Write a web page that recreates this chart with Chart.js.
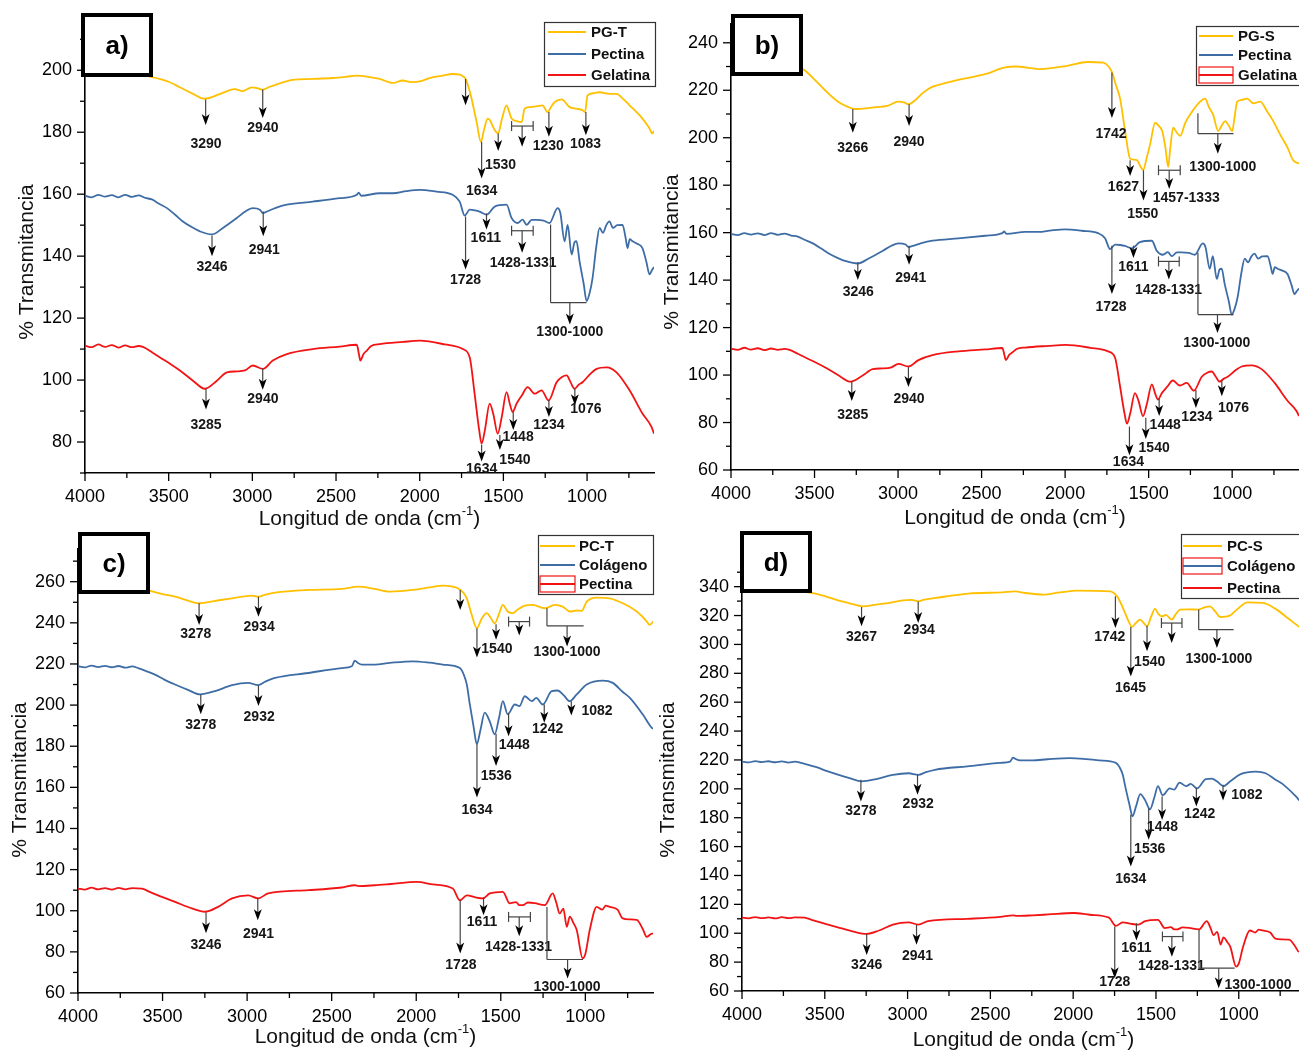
<!DOCTYPE html>
<html>
<head>
<meta charset="utf-8">
<script src="https://cdn.jsdelivr.net/npm/chart.js@4.4.1/dist/chart.umd.min.js"></script>
<style>
  html, body { margin: 0; padding: 0; background: #fff; width: 1299px; height: 1053px; overflow: hidden; }
  canvas { position: absolute; }
</style>
</head>
<body>
<canvas id="pa" width="660" height="530" style="left:0px;top:0px"></canvas>
<canvas id="pb" width="660" height="530" style="left:650px;top:0px"></canvas>
<canvas id="pc" width="660" height="528" style="left:0px;top:525px"></canvas>
<canvas id="pd" width="670" height="528" style="left:650px;top:525px"></canvas>
<script>
//=================================================
// Data (wavenumber cm-1, % transmitance)
//=================================================
const xTicks = [4000, 3500, 3000, 2500, 2000, 1500, 1000];
const yTicksA = [80, 100, 120, 140, 160, 180, 200];
const yTicksB = [60, 80, 100, 120, 140, 160, 180, 200, 220, 240];
const yTicksC = [60, 80, 100, 120, 140, 160, 180, 200, 220, 240, 260];
const yTicksD = [60, 80, 100, 120, 140, 160, 180, 200, 220, 240, 260, 280, 300, 320, 340];

const pgT = [
    [4000, 201], [3900, 200.2], [3800, 199.5], [3700, 198.6], [3600, 197.8], [3500, 196.3], [3433, 194.5],
    [3355, 192.4], [3284, 190.8], [3200, 192.2], [3150, 193.3], [3104, 193.9], [3060, 193.3], [3003, 194.5],
    [2970, 194.2], [2940, 193.7], [2900, 194.6], [2836, 195.8], [2758, 196.9], [2639, 197.2], [2519, 197.5],
    [2440, 197.9], [2376, 198.3], [2300, 197.8], [2239, 197.2], [2161, 195.9], [2101, 196.7], [2050, 196.2],
    [2000, 196.4], [1940, 197.5], [1870, 198.2], [1803, 198.8], [1760, 198.6], [1740, 198], [1726, 197.2],
    [1700, 193], [1690, 190.8], [1660, 183.3], [1634, 176.9], [1615, 181], [1594, 184.4], [1582, 184],
    [1555, 181], [1531, 179.6], [1510, 184], [1481, 188.7], [1465, 186.5], [1451, 184.4], [1420, 183.6],
    [1391, 183.3], [1373, 187.6], [1343, 188.1], [1300, 188.4], [1266, 188.7], [1236, 186.5], [1215, 188.2],
    [1194, 189.7], [1152, 190.6], [1104, 188.1], [1063, 187.6], [1030, 187.2], [1012, 186.5], [997, 191.9],
    [960, 192.6], [925, 192.9], [866, 192.4], [824, 192.4], [780, 190.5], [746, 188.7], [669, 184.4],
    [630, 181.5], [609, 179.6], [600, 180.5]
];

const pgS = [
    [4000, 234], [3900, 232.8], [3800, 231.5], [3700, 230.5], [3620, 230], [3569, 228.9], [3500, 224.5],
    [3437, 220], [3359, 215.2], [3300, 213], [3257, 212.1], [3156, 212.7], [3060, 213.5], [3000, 215.2],
    [2960, 214.8], [2940, 214.1], [2898, 215.8], [2850, 219], [2796, 221.4], [2720, 223], [2641, 224.4],
    [2479, 226.8], [2359, 229.6], [2299, 230], [2200, 229.3], [2150, 228.9], [1988, 230.3], [1868, 231.9],
    [1772, 231.6], [1740, 230], [1719, 227.5], [1695, 222], [1671, 216.5], [1641, 202.8], [1611, 191.2],
    [1590, 190.8], [1569, 190.5], [1550, 188], [1533, 186.4], [1510, 192], [1491, 197.3], [1461, 206.3],
    [1440, 205], [1419, 202.8], [1400, 196], [1383, 187.7], [1370, 196], [1353, 204.2], [1330, 202],
    [1311, 200.8], [1281, 206.3], [1240, 211], [1192, 215.2], [1162, 216.5], [1140, 213], [1114, 209.7],
    [1084, 202.8], [1060, 205.5], [1042, 207], [1020, 205], [1000, 202.8], [985, 209], [970, 215.2],
    [940, 216], [910, 216.5], [874, 214.5], [832, 215.2], [790, 211], [754, 207], [710, 201], [670, 196],
    [635, 190.5], [600, 189.1]
];

const pcT = [
    [4000, 258], [3800, 257], [3650, 256.2], [3574, 255.5], [3500, 254], [3426, 252.7], [3350, 250.8],
    [3290, 249.5], [3190, 250.7], [3100, 251.8], [3030, 252.7], [2975, 253.2], [2935, 252.7], [2900, 253.5],
    [2835, 254.7], [2639, 256], [2440, 256.5], [2345, 257.6], [2245, 256.5], [2156, 255.2], [2020, 256],
    [1920, 257.2], [1843, 258.1], [1754, 256.8], [1720, 254.5], [1701, 251.9], [1672, 243.9], [1642, 237.4],
    [1612, 242.2], [1583, 244.7], [1560, 242.5], [1536, 239.8], [1510, 244.5], [1488, 248.7], [1459, 245.5],
    [1429, 244.7], [1400, 246.5], [1358, 248.4], [1311, 248.7], [1240, 247.1], [1181, 248.7], [1134, 247.9],
    [1092, 245.5], [1050, 246], [1022, 245.8], [992, 250.3], [933, 252.3], [856, 251.9], [779, 249.5],
    [696, 245.5], [640, 241], [620, 239], [600, 240.6]
];

const pcS = [
    [4000, 338.5], [3850, 337.8], [3700, 337], [3572, 335.6], [3500, 333.5], [3434, 331], [3350, 328.5],
    [3271, 326.4], [3193, 327.5], [3100, 329], [3030, 330.5], [2975, 330.8], [2934, 329.8], [2900, 331],
    [2831, 332.2], [2633, 335.2], [2428, 336.1], [2349, 336.7], [2289, 335.6], [2181, 334.5], [2080, 336],
    [1976, 337.2], [1777, 336.7], [1735, 333.3], [1710, 328], [1687, 321.8], [1665, 316], [1645, 312.1],
    [1620, 315], [1596, 317.2], [1575, 315], [1554, 312.5], [1530, 319], [1506, 324.6], [1485, 321],
    [1464, 319.4], [1440, 320.5], [1420, 318.5], [1404, 317.2], [1380, 321], [1355, 324.1], [1300, 324.3],
    [1247, 324.1], [1210, 325.5], [1175, 326.4], [1140, 322.5], [1114, 319], [1054, 319.9], [1012, 324.1],
    [946, 329.1], [855, 328.7], [771, 324.1], [693, 317.2], [639, 312.5], [600, 309]
];

const pectinaHigh = [
    [4000, 159.5], [3960, 159], [3920, 159.8], [3880, 159.2], [3840, 159.7], [3800, 159], [3760, 159.8],
    [3720, 159.1], [3680, 159.6], [3640, 158.8], [3600, 158.3], [3560, 157], [3510, 155.5], [3460, 153.3],
    [3415, 151.2], [3360, 149.3], [3313, 148], [3242, 147], [3176, 149.1], [3093, 152.3], [3040, 154.5],
    [2997, 155.5], [2955, 155], [2937, 153.9], [2913, 154.4], [2860, 155.6], [2794, 156.6], [2639, 157.6],
    [2478, 158.7], [2376, 159.8], [2365, 160.5], [2350, 159.5], [2239, 160.3], [2161, 160.3], [2080, 161],
    [2000, 161.4], [1900, 160.8], [1803, 159.8], [1761, 157.6], [1731, 153.1], [1701, 155], [1670, 154.8],
    [1642, 154.4], [1600, 153.4], [1552, 156], [1481, 156.6], [1451, 152.3], [1415, 150.7], [1385, 151.8],
    [1361, 150.1], [1331, 151.7], [1302, 151.7], [1260, 151.5], [1224, 150.7], [1176, 155.5], [1160, 154],
    [1134, 144.8], [1116, 150.1], [1092, 140.5], [1075, 144.5], [1063, 144.8], [1045, 138.4], [1020, 131],
    [1003, 125.5], [985, 128], [967, 133], [945, 143], [925, 149.1], [905, 147.5], [885, 150], [866, 151.2],
    [845, 149.1], [820, 150], [788, 150.1], [770, 146], [758, 142.6], [745, 145.5], [728, 144.8], [700, 144],
    [669, 142.6], [645, 138], [627, 134.1], [612, 135.5], [600, 136.5]
];

const pectinaLow = [
    [4000, 110.8], [3960, 110.3], [3920, 111.2], [3880, 110.4], [3840, 111], [3800, 110.3], [3760, 111.1],
    [3720, 110.4], [3680, 111], [3622, 110.8], [3580, 109.3], [3527, 107.5], [3480, 106], [3426, 104.3],
    [3326, 101.1], [3249, 99.5], [3172, 101.9], [3089, 106], [2994, 107.5], [2935, 106], [2876, 108.4],
    [2639, 110], [2440, 111.3], [2363, 112.4], [2340, 112], [2245, 112.4], [2150, 113], [1997, 114],
    [1900, 112.8], [1784, 110.8], [1742, 105.1], [1701, 107.5], [1650, 106.5], [1606, 106], [1565, 108.4],
    [1488, 109.2], [1447, 103.6], [1410, 104.2], [1390, 102.7], [1370, 102.7], [1340, 104], [1300, 103.7],
    [1240, 102.7], [1193, 108.4], [1172, 104], [1152, 98.7], [1130, 101], [1110, 92.2], [1092, 97.1],
    [1070, 94], [1051, 90.6], [1016, 76.9], [1000, 79], [974, 90.6], [933, 101.9], [900, 100.5],
    [880, 102.5], [856, 101.9], [810, 100.5], [779, 96.3], [740, 95.8], [696, 95.5], [660, 91],
    [637, 87.3], [615, 88.5], [600, 89]
];

const gelatina = [
    [4000, 111.1], [3960, 110.6], [3920, 111.5], [3880, 110.7], [3840, 111.3], [3800, 110.5], [3760, 111.2],
    [3720, 110.6], [3680, 111], [3654, 110.7], [3600, 109], [3552, 107.3], [3490, 105.2], [3433, 103.1],
    [3355, 99.8], [3284, 97.2], [3212, 99.8], [3152, 102.5], [3093, 102.8], [3045, 103.1], [2997, 104.7],
    [2937, 103.6], [2878, 106.3], [2794, 108.4], [2639, 110], [2478, 110.8], [2376, 111.4], [2362, 108],
    [2355, 106.3], [2335, 108.5], [2316, 109.5], [2290, 111], [2239, 111.6], [2100, 112.3], [2000, 112.7],
    [1850, 111.5], [1743, 110], [1701, 107.3], [1672, 95.6], [1645, 84], [1630, 79.5], [1610, 84],
    [1582, 92.4], [1560, 89], [1534, 82.7], [1510, 88], [1481, 96.1], [1460, 92], [1445, 89.7],
    [1420, 92.5], [1390, 95], [1355, 97.7], [1313, 95.6], [1272, 96.7], [1230, 93.4], [1182, 99.3],
    [1150, 101], [1122, 101.5], [1100, 99.5], [1075, 97.2], [1050, 98.5], [1027, 99.3], [980, 102],
    [943, 103.6], [884, 104.1], [824, 102.5], [746, 96.7], [669, 89.2], [615, 84.9], [600, 82.7]
];

const colageno = [
    [4000, 218.9], [3960, 218.3], [3920, 219.2], [3880, 218.5], [3840, 219.1], [3800, 218.4], [3760, 219],
    [3720, 218.2], [3680, 218.8], [3645, 218], [3600, 216.6], [3545, 214.8], [3490, 212.4], [3426, 210],
    [3350, 207.4], [3278, 205.2], [3190, 206.8], [3089, 209.7], [2994, 210.8], [2935, 209.7], [2890, 211.5],
    [2835, 213.2], [2639, 215.6], [2440, 218], [2381, 218.9], [2363, 221.6], [2345, 220.5], [2322, 219.7],
    [2245, 219.7], [2156, 220.5], [2020, 221.3], [1920, 220.6], [1843, 219.7], [1742, 218], [1720, 215],
    [1701, 210], [1683, 200.3], [1660, 189], [1642, 181], [1620, 188], [1595, 196.3], [1565, 192],
    [1536, 185.8], [1510, 194], [1488, 201.9], [1459, 195.5], [1417, 200.3], [1390, 199.5], [1358, 204.3],
    [1317, 201.9], [1290, 203.5], [1252, 200.3], [1199, 206.8], [1163, 207.1], [1130, 205], [1092, 201.9],
    [1051, 205.2], [992, 210], [897, 211.9], [838, 210.8], [780, 206.5], [738, 203.6], [661, 195.5],
    [608, 189], [600, 188.5]
];

// peak marks: arrow (x, from y1 to tip y2), bar (bracket + arrow), range (L bracket + arrow)
const annA = [
    { t: "3290", x: 3279, y1: 190.6, y2: 182.3, lx: 3277, ly: 176 },
    { t: "2940", x: 2938, y1: 193.8, y2: 184.6, lx: 2937, ly: 181.2 },
    { t: "", x: 1726, y1: 197.2, y2: 188.7 },
    { t: "1634", x: 1630, y1: 176.9, y2: 165.1, lx: 1630, ly: 161.1 },
    { t: "1530", x: 1531, y1: 179.6, y2: 173.9, lx: 1517, ly: 169.5 },
    { bar: [1451, 1322], x: 1388, y1: 182, y2: 175.3 },
    { t: "1230", x: 1228, y1: 186.5, y2: 178.5, lx: 1232, ly: 175.6 },
    { t: "1083", x: 1007, y1: 186.5, y2: 179, lx: 1009, ly: 176 },
    { t: "3246", x: 3241, y1: 146.7, y2: 140, lx: 3241, ly: 136.3 },
    { t: "2941", x: 2935, y1: 154.4, y2: 146.4, lx: 2929, ly: 141.8 },
    { t: "1728", x: 1726, y1: 152.8, y2: 135.7, lx: 1726, ly: 132.2 },
    { t: "1611", x: 1601, y1: 153.8, y2: 148.6, lx: 1605, ly: 145.9 },
    { bar: [1451, 1322], x: 1388, y1: 148.2, y2: 141.1, t: "1428-1331", lx: 1382, ly: 137.9 },
    { range: [1218, 1003], top: 150.2, base: 125, x: 1103, y2: 117.9, t: "1300-1000", lx: 1103, ly: 115.4 },
    { t: "3285", x: 3277, y1: 97.2, y2: 90.5, lx: 3277, ly: 85.5 },
    { t: "2940", x: 2938, y1: 103.7, y2: 96.9, lx: 2937, ly: 93.8 },
    { t: "1634", x: 1630, y1: 79.1, y2: 73.7, lx: 1630, ly: 71.2 },
    { t: "1540", x: 1521, y1: 82.3, y2: 77.4, lx: 1431, ly: 74.2 },
    { t: "1448", x: 1441, y1: 89.7, y2: 83.9, lx: 1412, ly: 81.5 },
    { t: "1234", x: 1228, y1: 93.5, y2: 88.1, lx: 1228, ly: 85.5 },
    { t: "1076", x: 1073, y1: 97.2, y2: 91.9, lx: 1007, ly: 90.5 }
];

const annB = [
    { t: "3266", x: 3271, y1: 212.1, y2: 202.1, lx: 3271, ly: 195.6 },
    { t: "2940", x: 2934, y1: 214.1, y2: 204.9, lx: 2934, ly: 198 },
    { t: "1742", x: 1720, y1: 227.5, y2: 208.3, lx: 1725, ly: 201.4 },
    { t: "1627", x: 1611, y1: 190.5, y2: 183.9, lx: 1651, ly: 179 },
    { t: "1550", x: 1531, y1: 186.3, y2: 173.6, lx: 1535, ly: 167.8 },
    { bar: [1441, 1311], x: 1377, y1: 186.3, y2: 178.4, t: "1457-1333", lx: 1275, ly: 174.6 },
    { range: [1205, 992], top: 210.3, base: 201.7, x: 1086, y2: 193.2, t: "1300-1000", lx: 1056, ly: 187.7 },
    { t: "3246", x: 3241, y1: 147.5, y2: 140.1, lx: 3238, ly: 134.9 },
    { t: "2941", x: 2934, y1: 154.5, y2: 146.5, lx: 2924, ly: 141 },
    { t: "1728", x: 1720, y1: 154.5, y2: 134.2, lx: 1725, ly: 128.7 },
    { t: "1611", x: 1591, y1: 154.5, y2: 149.3, lx: 1591, ly: 145.6 },
    { bar: [1441, 1317], x: 1379, y1: 147.9, y2: 140.3, t: "1428-1331", lx: 1381, ly: 135.8 },
    { range: [1205, 992], top: 151.5, base: 125.5, x: 1088, y2: 117.7, t: "1300-1000", lx: 1092, ly: 113.6 },
    { t: "3285", x: 3277, y1: 97.4, y2: 89.1, lx: 3271, ly: 83.1 },
    { t: "2940", x: 2938, y1: 103.3, y2: 95, lx: 2934, ly: 89.8 },
    { t: "1634", x: 1615, y1: 78.3, y2: 66.2, lx: 1621, ly: 63.4 },
    { t: "1540", x: 1517, y1: 82, y2: 73.1, lx: 1467, ly: 69.4 },
    { t: "1448", x: 1437, y1: 90, y2: 82.7, lx: 1401, ly: 79 },
    { t: "1234", x: 1217, y1: 93.7, y2: 86.1, lx: 1211, ly: 82.3 },
    { t: "1076", x: 1062, y1: 97.8, y2: 91.1, lx: 992, ly: 86 }
];

const annC = [
    { t: "3278", x: 3284, y1: 249.5, y2: 239, lx: 3304, ly: 234.5 },
    { t: "2934", x: 2933, y1: 252.7, y2: 243, lx: 2929, ly: 237.7 },
    { t: "", x: 1740, y1: 256, y2: 246.3 },
    { t: "", x: 1641, y1: 237.4, y2: 223.2 },
    { t: "1540", x: 1528, y1: 239.3, y2: 231.8, lx: 1523, ly: 227.4 },
    { bar: [1454, 1330], x: 1391, y1: 240.6, y2: 233.9 },
    { range: [1227, 1010], top: 247.1, base: 238.5, x: 1108, y2: 228.5, t: "1300-1000", lx: 1108, ly: 225.8 },
    { t: "3278", x: 3274, y1: 205.1, y2: 195.5, lx: 3274, ly: 190.1 },
    { t: "2932", x: 2933, y1: 209.6, y2: 199.5, lx: 2929, ly: 194.1 },
    { t: "1634", x: 1641, y1: 180.9, y2: 155.1, lx: 1641, ly: 149 },
    { t: "1536", x: 1528, y1: 186.1, y2: 170.4, lx: 1527, ly: 165.6 },
    { t: "1448", x: 1454, y1: 196.2, y2: 184.9, lx: 1420, ly: 180.6 },
    { t: "1242", x: 1243, y1: 200.3, y2: 191.4, lx: 1223, ly: 188.2 },
    { t: "1082", x: 1083, y1: 201.9, y2: 195, lx: 931, ly: 197 },
    { t: "3246", x: 3243, y1: 99.1, y2: 89, lx: 3243, ly: 83.3 },
    { t: "2941", x: 2937, y1: 106.2, y2: 95.4, lx: 2933, ly: 88.4 },
    { t: "1728", x: 1740, y1: 105, y2: 79.2, lx: 1736, ly: 73.6 },
    { t: "1611", x: 1602, y1: 106.6, y2: 97.8, lx: 1611, ly: 94.5 },
    { bar: [1454, 1325], x: 1391, y1: 97, y2: 87.6, t: "1428-1331", lx: 1395, ly: 82.4 },
    { range: [1227, 1014], top: 101.8, base: 76.3, x: 1105, y2: 67.1, t: "1300-1000", lx: 1108, ly: 63 }
];

const annD = [
    { t: "3267", x: 3278, y1: 325.9, y2: 312.5, lx: 3278, ly: 305.1 },
    { t: "2934", x: 2936, y1: 329.8, y2: 314.8, lx: 2930, ly: 309.7 },
    { t: "1742", x: 1745, y1: 333.3, y2: 311.4, lx: 1779, ly: 305.1 },
    { t: "1645", x: 1652, y1: 312.1, y2: 277.8, lx: 1654, ly: 269.8 },
    { t: "1540", x: 1554, y1: 313, y2: 295.2, lx: 1538, ly: 287.8 },
    { bar: [1467, 1343], x: 1405, y1: 314.8, y2: 301 },
    { range: [1242, 1031], top: 324.1, base: 310.2, x: 1132, y2: 297.5, t: "1300-1000", lx: 1120, ly: 289.9 },
    { t: "3278", x: 3282, y1: 206.3, y2: 191.3, lx: 3282, ly: 184.8 },
    { t: "2932", x: 2940, y1: 209.7, y2: 195.9, lx: 2936, ly: 189.4 },
    { t: "1634", x: 1652, y1: 182, y2: 146.2, lx: 1652, ly: 137.4 },
    { t: "1536", x: 1544, y1: 186.6, y2: 164.7, lx: 1538, ly: 158 },
    { t: "1448", x: 1463, y1: 194.7, y2: 178.5, lx: 1461, ly: 173.2 },
    { t: "1242", x: 1256, y1: 200.5, y2: 187.8, lx: 1236, ly: 182.5 },
    { t: "1082", x: 1095, y1: 202.8, y2: 192, lx: 951, ly: 195.4 },
    { t: "3246", x: 3247, y1: 99.5, y2: 85, lx: 3247, ly: 77.6 },
    { t: "2941", x: 2946, y1: 105.8, y2: 92, lx: 2940, ly: 84.3 },
    { t: "1728", x: 1749, y1: 104.6, y2: 68.8, lx: 1749, ly: 66 },
    { t: "1611", x: 1618, y1: 106.9, y2: 94.9, lx: 1618, ly: 89.6 },
    { bar: [1461, 1337], x: 1404, y1: 97.7, y2: 83.8, t: "1428-1331", lx: 1407, ly: 77.4 },
    { range: [1240, 1025], top: 102.3, base: 75.8, x: 1121, y2: 61.9, t: "1300-1000", lx: 884, ly: 64.2 }
];

//=================================================
// Styles & panel layout
//=================================================
const FONT = "'Liberation Sans', Arial, sans-serif";
const YELLOW = "#FFC000";
const BLUE = "#3E6DA6";
const RED = "#F21414";

const panels = [
    {
        id: "pa", tag: "a)", yMin: 70, yMax: 215, yTicks: yTicksA, ann: annA,
        series: [["PG-T", pgT, YELLOW], ["Pectina", pectinaHigh, BLUE], ["Gelatina", gelatina, RED]],
        padR: 6, padT: 21, yW: 85, xH: 57,
        tagBox: [81, 13, 72, 64], legBox: [544, 22, 112, 65], legRows: [32, 54, 75], legX: [548, 586, 591],
        legFrame: [null, null, null], yTitle: [27, 262], xTitleY: 519
    },
    {
        id: "pb", tag: "b)", yMin: 60, yMax: 248, yTicks: yTicksB, ann: annB,
        series: [["PG-S", pgS, YELLOW], ["Pectina", pectinaHigh, BLUE], ["Gelatina", gelatina, RED]],
        padR: 11, padT: 14, yW: 81, xH: 60,
        tagBox: [81, 14, 72, 62], legBox: [546, 26, 120, 60], legRows: [36, 55, 75], legX: [549, 583, 588],
        legFrame: [null, null, RED], yTitle: [22, 252], xTitleY: 518
    },
    {
        id: "pc", tag: "c)", yMin: 60, yMax: 276, yTicks: yTicksC, ann: annC,
        series: [["PC-T", pcT, YELLOW], ["Colágeno", colageno, BLUE], ["Pectina", pectinaLow, RED]],
        padR: 7, padT: 22, yW: 78, xH: 60,
        tagBox: [78, 7, 72, 62], legBox: [538, 10, 116, 60], legRows: [21, 40, 59], legX: [540, 575, 579],
        legFrame: [null, null, RED], yTitle: [20, 255], xTitleY: 512
    },
    {
        id: "pd", tag: "d)", yMin: 60, yMax: 355, yTicks: yTicksD, ann: annD,
        series: [["PC-S", pcS, YELLOW], ["Colágeno", colageno, BLUE], ["Pectina", pectinaLow, RED]],
        padR: 15, padT: 40, yW: 92, xH: 62,
        tagBox: [90, 6, 72, 62], legBox: [531, 9, 130, 65], legRows: [21, 41, 63], legX: [533, 572, 577],
        legFrame: [null, RED, null], yTitle: [18, 255], xTitleY: 515
    }
];

//=================================================
// Decorations: ticks, peak marks, legend, tag, titles
//=================================================
const makeDecor = (p) => ({
    id: "decor",
    afterDraw(chart) {
        const ctx = chart.ctx;
        const xs = chart.scales.x;
        const ys = chart.scales.y;
        const area = chart.chartArea;
        const px = (v) => xs.getPixelForValue(v);
        const py = (v) => ys.getPixelForValue(v);
        const seg = (x1, y1, x2, y2) => {
            ctx.beginPath();
            ctx.moveTo(x1, y1);
            ctx.lineTo(x2, y2);
            ctx.stroke();
        };
        ctx.save();

        // axis ticks
        ctx.strokeStyle = "#000";
        ctx.lineWidth = 1.3;
        for (let v = 4000; v >= 600; v -= 250) {
            const len = v % 500 === 0 ? 8 : 5;
            seg(px(v), area.bottom, px(v), area.bottom + len);
        }
        for (let v = Math.ceil(p.yMin / 10) * 10; v <= p.yMax; v += 10) {
            const len = v % 20 === 0 ? 8 : 5;
            seg(area.left, py(v), area.left - len, py(v));
        }

        // peak marks
        const head = (x, y) => {
            ctx.fillStyle = "#000";
            ctx.beginPath();
            ctx.moveTo(x, y);
            ctx.lineTo(x - 4, y - 11);
            ctx.lineTo(x, y - 8);
            ctx.lineTo(x + 4, y - 11);
            ctx.closePath();
            ctx.fill();
        };
        ctx.strokeStyle = "#444";
        ctx.lineWidth = 1.2;
        p.ann.forEach((a) => {
            if (a.bar) {
                const yb = py(a.y1);
                seg(px(a.bar[0]), yb, px(a.bar[1]), yb);
                seg(px(a.bar[0]), yb - 5, px(a.bar[0]), yb + 5);
                seg(px(a.bar[1]), yb - 5, px(a.bar[1]), yb + 5);
                seg(px(a.x), yb, px(a.x), py(a.y2) - 6);
            } else if (a.range) {
                const yb = py(a.base);
                seg(px(a.range[0]), py(a.top), px(a.range[0]), yb);
                seg(px(a.range[0]), yb, px(a.range[1]), yb);
                seg(px(a.x), yb, px(a.x), py(a.y2) - 6);
            } else {
                seg(px(a.x), py(a.y1), px(a.x), py(a.y2) - 6);
            }
            head(px(a.x), py(a.y2));
            if (a.t) {
                ctx.fillStyle = "#161616";
                ctx.font = "bold 14px " + FONT;
                ctx.textAlign = "center";
                ctx.textBaseline = "middle";
                ctx.fillText(a.t, px(a.lx), py(a.ly));
            }
        });

        // legend
        const [bx, by, bw, bh] = p.legBox;
        ctx.fillStyle = "#fff";
        ctx.fillRect(bx, by, bw, bh);
        ctx.strokeStyle = "#333";
        ctx.lineWidth = 1.2;
        ctx.strokeRect(bx + 0.5, by + 0.5, bw - 1, bh - 1);
        p.series.forEach((s, i) => {
            const y = p.legRows[i];
            if (p.legFrame[i]) {
                ctx.strokeStyle = p.legFrame[i];
                ctx.lineWidth = 1.2;
                ctx.strokeRect(p.legX[0], y - 8, p.legX[1] - p.legX[0], 16);
            }
            ctx.strokeStyle = s[2];
            ctx.lineWidth = 2;
            seg(p.legX[0], y, p.legX[1], y);
            ctx.fillStyle = "#111";
            ctx.font = "bold 15px " + FONT;
            ctx.textAlign = "left";
            ctx.textBaseline = "middle";
            ctx.fillText(s[0], p.legX[2], y + 1);
        });

        // panel tag
        const [tx, ty, tw, th] = p.tagBox;
        ctx.fillStyle = "#fff";
        ctx.fillRect(tx, ty, tw, th);
        ctx.strokeStyle = "#000";
        ctx.lineWidth = 4;
        ctx.strokeRect(tx + 2, ty + 2, tw - 4, th - 4);
        ctx.fillStyle = "#000";
        ctx.font = "bold 26px " + FONT;
        ctx.textAlign = "center";
        ctx.textBaseline = "middle";
        ctx.fillText(p.tag, tx + tw / 2, ty + th / 2 + 2);

        // axis titles
        ctx.fillStyle = "#111";
        const main = "Longitud de onda (cm";
        ctx.font = "21px " + FONT;
        const w1 = ctx.measureText(main).width;
        ctx.font = "13px " + FONT;
        const w2 = ctx.measureText("-1").width;
        ctx.font = "21px " + FONT;
        const w3 = ctx.measureText(")").width;
        const cx = (area.left + area.right) / 2 - (w1 + w2 + w3) / 2;
        ctx.textAlign = "left";
        ctx.textBaseline = "middle";
        ctx.fillText(main, cx, p.xTitleY);
        ctx.font = "13px " + FONT;
        ctx.fillText("-1", cx + w1, p.xTitleY - 8);
        ctx.font = "21px " + FONT;
        ctx.fillText(")", cx + w1 + w2, p.xTitleY);

        ctx.translate(p.yTitle[0], p.yTitle[1]);
        ctx.rotate(-Math.PI / 2);
        ctx.textAlign = "center";
        ctx.fillText("% Transmitancia", 0, 0);
        ctx.restore();
    }
});

//=================================================
// Charts
//=================================================
const drawPanel = (p) => {
    const data = {
        datasets: p.series.map((s) => ({
            label: s[0],
            data: s[1].map(([x, y]) => ({ x: x, y: y })),
            borderColor: s[2],
            borderWidth: 1.8,
            pointRadius: 0,
            cubicInterpolationMode: "monotone",
            fill: false,
        })),
    };

    const config = {
        type: "line",
        data: data,
        options: {
            responsive: false,
            animation: false,
            layout: { padding: { left: 0, right: p.padR, top: p.padT, bottom: 0 } },
            plugins: { legend: { display: false }, tooltip: { enabled: false } },
            scales: {
                x: {
                    type: "linear",
                    reverse: true,
                    min: 600,
                    max: 4000,
                    afterBuildTicks: (s) => { s.ticks = xTicks.map((v) => ({ value: v })); },
                    afterFit: (s) => { s.height = p.xH; },
                    grid: { display: false, drawTicks: false },
                    border: { display: true, color: "#000", width: 1.6 },
                    ticks: {
                        color: "#000",
                        padding: 13,
                        maxRotation: 0,
                        autoSkip: false,
                        font: { family: FONT, size: 18 },
                        callback: (v) => String(v),
                    },
                },
                y: {
                    type: "linear",
                    min: p.yMin,
                    max: p.yMax,
                    afterBuildTicks: (s) => { s.ticks = p.yTicks.map((v) => ({ value: v })); },
                    afterFit: (s) => { s.width = p.yW; },
                    grid: { display: false, drawTicks: false },
                    border: { display: true, color: "#000", width: 1.6 },
                    ticks: {
                        color: "#000",
                        padding: 13,
                        autoSkip: false,
                        font: { family: FONT, size: 18 },
                        callback: (v) => String(v),
                    },
                },
            },
        },
        plugins: [makeDecor(p)],
    };

    new Chart(document.getElementById(p.id), config);
};

panels.forEach(drawPanel);
</script>
</body>
</html>
